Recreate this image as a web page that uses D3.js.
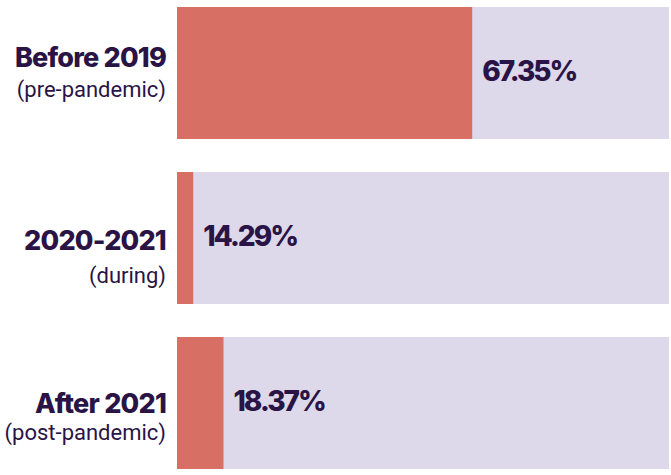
<!DOCTYPE html>
<html>
<head>
<meta charset="utf-8">
<script src="https://cdn.jsdelivr.net/npm/d3@7"></script>
<style>
  html, body { margin: 0; padding: 0; background: #ffffff; }
  svg { display: block; }
</style>
</head>
<body>
<svg id="chart" width="671" height="475"></svg>
<script>
// ---- data ----
const categories = ["Before 2019", "2020-2021", "After 2021"];
const subtitles = ["(pre-pandemic)", "(during)", "(post-pandemic)"];
const values = [67.35, 14.29, 18.37];            // printed percentages
const barFill = [60.0, 3.3, 9.45];                // drawn bar length, % of track

// ---- layout ----
const W = 671, H = 475;
const trackLeft = 177, trackRight = 669;
const titleDy = [60, 78, 76];
const subDy = [90, 111, 103];
const valueDy = 74;
const colors = { fill: "#d76f65", track: "#ded9ea", text: "#2a1446" };

const svg = d3.select("#chart");

const x = d3.scaleLinear().domain([0, 100]).range([trackLeft, trackRight]);
const y = d3.scaleBand().domain(categories).range([7, 469]).paddingInner(0.2).paddingOuter(0);

const rows = categories.map((c, i) => ({ c, i, sub: subtitles[i], v: values[i], f: barFill[i] }));

const g = svg.selectAll("g.row").data(rows).enter().append("g").attr("class", "row");

g.append("rect")
  .attr("x", x(0)).attr("y", d => y(d.c))
  .attr("width", x(100) - x(0)).attr("height", y.bandwidth())
  .attr("fill", colors.track);

g.append("rect")
  .attr("x", x(0)).attr("y", d => y(d.c))
  .attr("width", d => x(d.f) - x(0)).attr("height", y.bandwidth())
  .attr("fill", colors.fill);

const fmt = d3.format(".2f");
g.append("text")
  .attr("x", d => x(d.f) + 10).attr("y", d => y(d.c) + valueDy)
  .attr("fill", colors.text)
  .style("font-family", "Inter, sans-serif").style("font-weight", 800)
  .style("font-size", "28px").style("letter-spacing", "-2px")
  .text(d => fmt(d.v) + "%");

g.append("text")
  .attr("x", 166).attr("y", d => y(d.c) + titleDy[d.i])
  .attr("text-anchor", "end").attr("fill", colors.text)
  .style("font-family", "Inter, sans-serif").style("font-weight", 800)
  .style("font-size", "27px").style("letter-spacing", "-0.8px")
  .text(d => d.c);

g.append("text")
  .attr("x", 166).attr("y", d => y(d.c) + subDy[d.i])
  .attr("text-anchor", "end").attr("fill", colors.text)
  .style("font-family", "Roboto, sans-serif").style("font-weight", 400)
  .style("font-size", "22px")
  .text(d => d.sub);
</script>
</body>
</html>
